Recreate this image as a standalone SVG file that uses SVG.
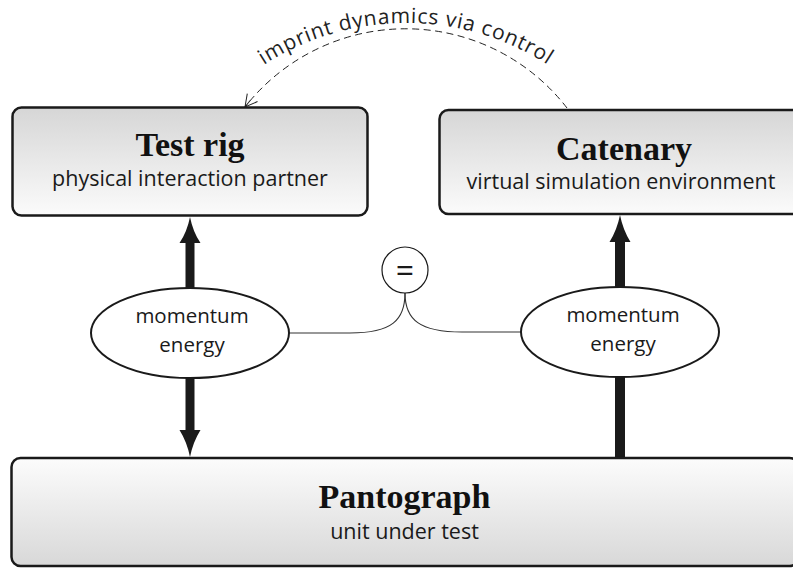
<svg xmlns="http://www.w3.org/2000/svg" width="793" height="569" viewBox="0 0 793 569">
<defs>
<linearGradient id="gTop" x1="0" y1="0" x2="0" y2="1">
<stop offset="0" stop-color="#d6d6d6"/>
<stop offset="1" stop-color="#fbfbfb"/>
</linearGradient>
<linearGradient id="gBot" x1="0" y1="0" x2="0" y2="1">
<stop offset="0" stop-color="#fcfcfc"/>
<stop offset="1" stop-color="#d8d8d8"/>
</linearGradient>
<marker id="openArrow" markerUnits="userSpaceOnUse" markerWidth="16" markerHeight="16" refX="14" refY="8" orient="auto" overflow="visible">
<path d="M2,1.5 L14,8 L2,14.5 M6,8 L14,8" fill="none" stroke="#222" stroke-width="1"/>
</marker>
<path id="textArc" d="M179.1,154 A262,262 0 0 1 632.9,154"/>
</defs>
<style>
.box{stroke:#1a1a1a;stroke-width:2.5}
.title{font-family:"Liberation Serif",serif;font-weight:bold;font-size:34px;fill:#111;text-anchor:middle}
.sub{font-family:"Open Sans",sans-serif;font-size:21.5px;fill:#1a1a1a;text-anchor:middle}
.ell{fill:#fff;stroke:#1a1a1a;stroke-width:2}
.etext{font-family:"Open Sans",sans-serif;font-size:20.5px;fill:#1a1a1a;text-anchor:middle}
.thin{fill:none;stroke:#333;stroke-width:1.1}
.thick{fill:#1a1a1a}
</style>

<g id="connectors">
<path class="thin" d="M405,293 C405,320 392,333 350,333 L289,333"/>
<path class="thin" d="M405,293 C405,320 420,332 462,332 L521,332"/>
<path fill="none" stroke="#222" stroke-width="1" stroke-dasharray="7,4.5" d="M567,108 A204,204 0 0 0 245,107" marker-end="url(#openArrow)"/>
<text font-family="Open Sans, sans-serif" font-size="21px" letter-spacing="0.8" fill="#222" text-anchor="middle"><textPath href="#textArc" startOffset="50%">imprint dynamics via control</textPath></text>
<rect class="thick" x="185.5" y="240" width="9" height="192"/>
<path class="thick" d="M190,217 Q193,232 200.5,243 L179.5,243 Q187,232 190,217 Z"/>
<path class="thick" d="M190,457 Q193,442 200.5,430 L179.5,430 Q187,442 190,457 Z"/>
<rect class="thick" x="615" y="238" width="10" height="221"/>
<path class="thick" d="M620,215 Q623,230 630.5,242 L609.5,242 Q617,230 620,215 Z"/>
</g>

<g id="testrig">
<rect class="box" x="12.5" y="107.5" width="355" height="108" rx="9" fill="url(#gTop)"/>
<text class="title" x="190" y="156">Test rig</text>
<text class="sub" x="190" y="186">physical interaction partner</text>
</g>

<g id="catenary">
<rect class="box" x="439.5" y="110" width="370" height="104" rx="9" fill="url(#gTop)"/>
<text class="title" x="624" y="160">Catenary</text>
<text class="sub" x="621" y="189">virtual simulation environment</text>
</g>

<g id="pantograph">
<rect class="box" x="11.5" y="458" width="787" height="108" rx="9" fill="url(#gBot)"/>
<text class="title" x="404.5" y="508">Pantograph</text>
<text class="sub" x="404.5" y="539">unit under test</text>
</g>

<g id="ellipseLeft">
<ellipse class="ell" cx="190" cy="333" rx="99" ry="45"/>
<text class="etext" x="192" y="323">momentum</text>
<text class="etext" x="192" y="352">energy</text>
</g>

<g id="ellipseRight">
<ellipse class="ell" cx="620" cy="332" rx="99" ry="45"/>
<text class="etext" x="623" y="322">momentum</text>
<text class="etext" x="623" y="351">energy</text>
</g>

<g id="equals">
<circle cx="405" cy="270" r="23" fill="#fff" stroke="#1a1a1a" stroke-width="1.2"/>
<text x="405" y="282" font-family="Open Sans, sans-serif" font-size="32px" fill="#1a1a1a" text-anchor="middle">=</text>
</g>
</svg>
